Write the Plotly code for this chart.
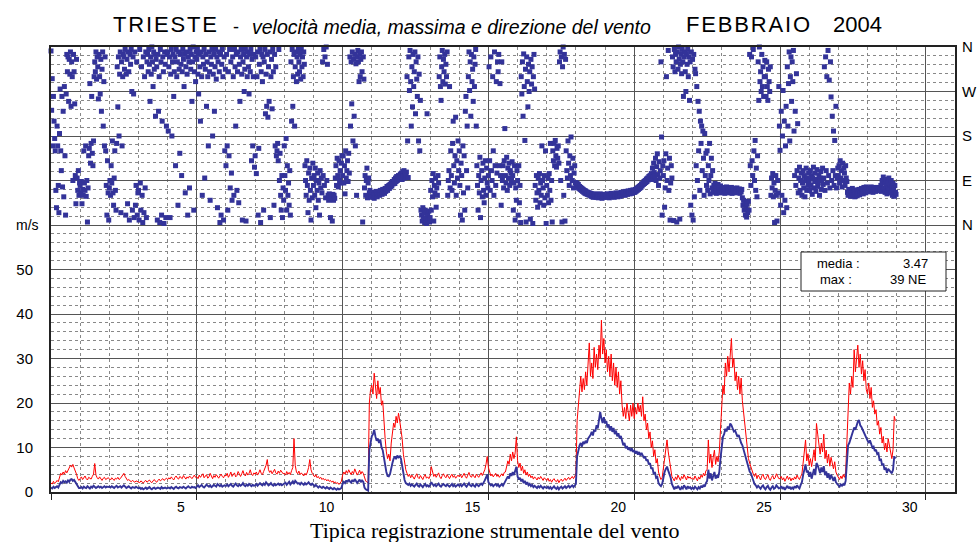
import plotly.graph_objects as go

# ---------------- DATA ----------------
# Hourly mean wind speed (m/s), one row per day (day 0 = 1 Feb 2004)
mean_speed = [
    [1.0,0.8,1.2,0.9,1.1,1.3,1.0,1.8,2.2,2.0,2.5,2.2,2.4,2.1,2.6,2.3,2.8,2.9,2.5,2.7,2.2,1.8,1.2,0.9],
    [0.9,1.1,0.8,1.2,1.0,0.9,1.3,1.1,0.8,1.2,1.0,1.4,1.2,0.9,1.1,1.3,1.0,1.2,0.9,1.1,1.3,1.0,1.2,1.1],
    [1.2,1.0,1.3,1.1,0.9,1.2,1.4,1.0,1.1,1.3,1.0,1.2,1.5,1.2,0.9,1.1,1.3,1.0,0.8,1.1,1.0,0.9,1.2,1.0],
    [0.8,1.0,0.7,0.9,0.6,0.8,1.0,0.7,0.9,1.1,0.8,0.6,0.9,1.0,0.7,0.8,1.0,0.9,0.7,1.1,0.8,0.9,1.0,0.8],
    [0.9,1.0,0.8,1.1,0.9,0.7,1.0,1.2,0.9,0.8,1.1,1.0,0.9,1.2,1.0,0.8,1.1,1.3,1.0,0.9,1.2,1.0,1.1,0.9],
    [1.2,1.5,1.1,1.4,1.6,1.2,1.0,1.3,1.7,1.4,1.2,1.5,1.1,1.3,1.6,1.4,1.2,1.8,1.5,1.3,1.6,1.2,1.4,1.5],
    [1.4,1.7,1.3,1.5,1.8,1.4,1.2,1.6,1.9,1.5,1.3,1.7,1.4,1.6,2.0,1.5,1.3,1.7,1.4,1.8,1.5,1.3,1.6,1.4],
    [1.5,1.8,1.4,1.6,2.0,1.7,1.5,1.9,1.6,2.2,1.8,1.5,1.7,2.0,1.6,1.4,1.8,1.5,1.7,1.9,1.6,1.8,1.5,1.7],
    [1.8,2.1,1.6,1.9,2.3,1.7,2.0,2.4,1.8,2.5,2.2,1.9,2.0,1.7,2.1,1.8,1.6,2.0,1.7,1.9,2.2,1.8,1.6,1.9],
    [1.5,1.3,1.6,1.2,1.0,1.3,1.1,0.9,1.2,1.0,0.8,1.1,0.9,0.7,1.0,0.8,0.6,0.9,0.7,0.5,0.8,0.6,0.7,0.9],
    [1.8,2.3,2.0,2.6,2.2,2.8,2.4,2.1,2.7,2.3,2.9,2.5,2.0,2.4,2.8,2.2,2.6,2.3,1.0,0.6,0.4,0.3,9.5,11.0],
    [12.5,13,14,12.5,11.5,12,11,11.8,10,9.4,7.5,6.2,4.5,3.6,3.5,4.0,5.5,6.5,7.5,8,7.4,8.2,7.8,8],
    [7.5,6,4,2.7,2,1.8,1.6,1.9,1.4,1.7,1.5,1.2,1.6,1.9,1.4,1.2,1.7,1.4,1.1,1.5,1.8,1.3,1.5,1.2],
    [1.5,2.2,1.8,1.4,1.7,1.3,1.6,1.9,1.4,1.2,1.6,1.8,1.5,1.3,1.7,1.4,1.2,1.5,1.8,1.3,1.6,1.2,1.4,1.7],
    [1.4,1.7,1.3,1.5,1.9,1.5,1.2,1.6,2.0,1.5,1.3,1.7,1.4,1.2,1.8,1.5,1.3,1.6,1.9,1.6,2.0,2.6,3.2,4.0],
    [2.2,1.8,1.5,1.7,1.3,1.6,1.8,1.4,1.7,1.2,1.5,1.8,1.4,1.9,2.4,2.8,3.5,3.0,4.2,3.6,4.5,3.8,5.0,5.7],
    [3.5,2.8,3.2,2.4,2.9,2.0,2.5,1.7,2.2,1.5,1.8,1.3,1.6,1.1,1.4,1.2,0.9,1.3,1.0,1.4,1.1,0.8,1.2,1.0],
    [0.9,1.2,0.8,1.1,0.7,1.0,1.3,0.9,0.7,1.1,0.6,1.0,1.2,0.8,1.0,1.3,0.9,1.1,1.4,1.0,1.2,1.5,1.1,1.4],
    [1.8,8,9.5,10.5,11,10.2,11.3,10.8,11.5,11,12,12.3,12.8,13.5,12.7,14,13.6,15,14.3,16.2,18,16.5,15.5,16.8],
    [15.4,16,14.5,15.2,13.8,14.8,13.5,14.4,13,13.8,12.5,13.2,12,12.6,11.2,10.5,11,9.8,10.3,9.5,10,9.2,9.8,9],
    [9.4,8.6,9.2,8.4,9,8.2,8.8,8,7.6,8,7,7.3,6.2,6.5,5.2,5.5,4,4.5,3.2,3.4,2,1.6,1.3,1.8],
    [3.5,4.5,5.2,5.7,4.8,4,3.2,1.8,1.0,0.6,1.2,0.8,1.4,1.0,0.5,1.1,0.8,1.5,1.0,0.6,1.3,0.9,1.1,0.7],
    [1.0,0.7,1.2,0.9,0.6,1.1,0.8,1.4,1.0,1.6,1.2,2.0,2.5,5.0,3.0,4.2,2.6,3.6,4.5,3.0,3.8,3.2,4.5,7.5],
    [10,12.4,13,14.2,13.6,14.7,14,15.4,15,14.2,13.6,13.8,13,12.4,12.8,11.8,11,10.5,9.5,8.6,7.8,6.5,5.4,4.6],
    [4.2,3.2,2.5,1.8,1.5,1.0,1.4,1.1,0.7,1.2,1.5,0.9,0.6,1.1,1.4,0.8,0.5,1.0,1.3,0.7,0.9,1.5,1.1,0.8],
    [0.9,1.3,0.7,1.1,0.5,0.9,1.4,0.8,1.2,0.6,1.0,0.7,1.3,0.9,1.5,1.1,0.8,1.6,2.2,3.8,5.0,6.2,4.4,4.8],
    [3.4,4.5,3.0,4.2,5.2,3.8,6.5,6.0,5.0,4.2,5.5,4.5,5.8,3.8,4.6,3.2,4.2,2.8,3.9,3.0,2.5,3.4,2.2,1.8],
    [1.5,1.2,1.7,1.4,1.8,1.5,2.5,7.0,10.5,11.0,12.0,13.0,13.5,14.5,14.0,15.2,15.8,16.2,15.0,14.6,14.0,13.5,13.0,12.0],
    [11.5,11.0,11.6,10.5,10.0,10.2,9.2,9.5,8.5,8.7,7.0,7.5,6.0,6.4,5.0,5.5,4.3,5.2,4.8,4.5,4.2,5.0,8.0,7.5],
]

# Hourly maximum wind speed (m/s)
max_speed = [
    [2.0,1.8,2.4,1.9,2.2,2.6,2.3,3.5,4.2,3.8,4.5,4.0,4.8,4.3,5.0,5.5,6.0,5.6,6.2,5.4,4.8,4.0,3.0,2.6],
    [3.0,3.4,2.8,3.2,3.6,3.0,2.7,3.3,3.1,2.9,3.5,4.0,6.4,3.8,3.2,2.9,3.4,3.0,2.6,3.1,3.3,2.8,3.0,3.2],
    [3.0,2.7,3.2,2.8,2.6,3.1,2.9,3.3,2.8,3.0,3.4,3.8,4.2,3.5,2.9,2.6,2.8,2.5,2.3,2.6,2.4,2.2,2.5,2.3],
    [2.3,2.1,2.5,2.2,2.0,2.4,2.6,2.2,2.4,2.7,2.3,2.1,2.5,2.8,2.4,2.2,2.6,2.9,2.5,2.7,3.0,2.6,2.8,3.1],
    [2.8,3.2,2.9,3.4,3.0,2.7,3.3,3.6,3.1,2.9,3.5,3.2,3.0,3.7,3.3,2.9,3.4,3.1,3.6,3.2,3.0,3.4,3.8,3.3],
    [3.4,3.0,3.8,3.3,3.6,4.1,3.2,3.5,3.9,3.1,3.4,4.2,3.6,3.0,3.7,3.3,3.9,3.4,3.1,3.6,4.0,3.5,3.2,3.8],
    [3.6,4.2,3.3,3.8,4.5,3.5,3.9,4.3,3.4,3.7,4.6,3.8,3.5,4.1,4.8,3.9,3.6,4.4,3.8,4.2,5.0,4.0,3.7,4.3],
    [4.0,4.5,3.8,4.3,5.0,4.2,3.9,4.6,5.2,6.0,7.3,5.0,4.4,4.8,4.1,4.6,5.1,4.3,4.0,4.7,4.2,4.9,4.4,4.1],
    [4.2,3.8,4.6,4.0,4.4,3.9,4.8,5.5,12.0,6.0,4.5,4.1,4.7,3.9,4.3,4.0,3.6,4.2,3.8,4.5,5.5,7.3,5.0,4.2],
    [3.8,3.4,3.9,3.2,3.5,3.0,3.3,2.8,3.1,2.7,2.9,2.5,2.8,2.4,2.6,2.2,2.5,2.0,2.3,1.9,2.1,1.7,2.0,2.4],
    [3.8,4.5,4.0,4.8,4.2,5.0,4.4,3.9,4.6,4.1,5.2,4.5,3.8,4.3,4.9,4.0,4.6,4.2,3.0,2.5,2.2,2.0,20,23],
    [24,22,26.7,24,21,25,22,23.5,19.5,20.5,15,12,9,7.5,8.5,7,11,13,15.5,14.5,17,15.5,17.7,16],
    [14,12,8.5,6,5,4.2,3.5,4.0,3.2,3.8,3.4,2.9,3.6,4.1,3.3,3.0,3.7,3.2,2.8,3.5,3.9,3.1,3.4,3.0],
    [3.6,5.7,4.2,3.5,4.0,3.3,3.8,4.3,3.4,3.0,3.7,4.1,3.5,3.2,3.9,3.4,3.0,3.6,4.0,3.3,3.7,3.1,3.5,3.8],
    [3.4,3.9,3.2,3.6,4.2,3.5,3.1,3.8,4.4,3.6,3.3,3.9,3.5,3.2,4.0,3.6,3.3,3.8,4.3,3.7,4.2,5.0,6.2,8.0],
    [5.5,4.2,3.6,4.0,3.4,3.8,4.2,3.5,3.9,3.3,3.7,4.1,3.6,4.4,4.5,5.8,7.0,6.2,8.5,7.0,9.0,7.5,8.8,12.4],
    [7.0,5.5,6.5,4.8,5.8,4.2,5.0,3.8,4.5,3.5,4.0,3.2,3.6,2.9,3.4,3.1,2.7,3.3,2.9,3.5,3.0,2.6,3.2,2.8],
    [2.6,3.1,2.4,2.8,2.2,2.7,3.0,2.5,2.3,2.8,2.1,2.6,2.9,2.4,2.7,3.1,2.6,2.9,3.3,2.8,3.1,3.5,3.0,3.4],
    [4,16,20,23,26,22.5,25.5,23,27,24,28,33.5,26,29,25.5,32.5,28,31,27.5,33,30,38.6,31,34.5],
    [29,32,27,30.5,26,31,25,29,24,28,23.5,27,22,25,19.5,17,19,16.5,20,18,16,19.5,17,20],
    [16.5,19,17.5,20,18,19.5,17,21.4,16,17.5,14,15.5,12,13.5,10,11.5,8,9.5,6.5,7.5,4.5,3.5,2.8,3.2],
    [5.5,8,9.5,11.7,9,7,5.5,3.5,3.0,2.5,3.4,2.8,3.8,3.2,2.6,3.5,3.0,3.9,3.3,2.7,3.6,3.1,3.4,2.9],
    [3.2,2.8,3.6,3.0,2.5,3.4,2.9,3.8,3.3,4.2,3.6,4.8,5.0,11.7,6.5,8.5,5.5,7.8,9.4,6.2,8.0,6.8,9.0,14.0],
    [19,24,22,29,26,30.5,27,32,34.5,28,30,25,27,23,26,22,25.6,20.5,18,15,12.5,9.4,7.5,6.5],
    [5.7,4.5,4.0,3.5,4.2,3.0,3.8,3.3,2.7,3.6,4.0,3.1,2.8,3.4,3.9,3.0,2.6,3.3,3.7,2.9,3.2,4.1,3.4,3.0],
    [3.0,3.5,2.7,3.2,2.4,3.0,3.6,2.8,3.3,2.5,3.1,2.7,3.4,2.9,3.8,3.2,2.8,3.5,4.0,6.5,9.4,11.7,7.0,8.6],
    [6.0,7.5,5.7,8.0,9.5,7.0,15.4,13.0,10.0,8.5,11.0,9.0,13.0,7.5,9.4,6.5,8.5,5.8,7.8,6.0,5.2,6.8,4.5,3.8],
    [3.2,2.8,3.6,3.0,3.9,3.3,4.5,12.0,21.0,24.5,22.0,26.0,23.5,32.0,27.0,30.0,33.0,28.0,31.0,26.5,29.5,25.0,27.5,23.0],
    [22.0,24.5,21.0,23.5,19.0,20.5,17.5,18.5,15.0,16.0,13.0,14.5,11.0,12.5,9.5,11.0,9.0,12.0,10.5,8.5,7.5,9.5,17.0,16.0],
]

# Half-hourly wind direction (degrees from N), one row per day
direction = [
    [352,232,296,160,260,210,175,150,70,35,200,160,80,25,185,275,150,110,260,77,230,57,280,140,20,265,345,310,340,250,335,305,350,240,330,300,90,345,310,245,100,43,335,95,70,110,60,85],
    [80,65,88,43,72,60,150,85,70,160,58,90,6,75,140,155,286,125,165,260,145,120,170,300,330,310,350,295,340,320,255,345,300,265,335,230,315,350,200,290,160,340,150,80,20,130,65,10],
    [75,90,60,120,85,170,65,40,95,150,70,30,165,320,239,340,180,305,350,25,330,160,300,345,340,315,355,20,305,335,43,350,310,10,345,325,355,270,30,340,265,15,350,40,80,330,20,65],
    [70,10,355,85,30,320,60,5,340,25,300,75,350,15,330,345,310,355,325,250,340,305,360,330,280,350,315,345,220,335,320,10,345,230,300,5,355,330,20,210,340,310,3,350,325,15,200,345],
    [350,190,320,340,15,305,355,180,330,345,260,310,340,120,355,300,330,40,350,315,145,345,325,100,310,355,335,280,345,65,320,350,305,20,340,330,75,355,315,345,250,330,360,30,310,340,290,350],
    [335,355,305,265,345,320,210,350,300,60,340,325,355,95,315,345,240,330,300,160,350,310,50,340,325,355,180,305,345,230,320,355,295,340,35,330,350,310,5,345,20,325,355,300,10,340,150,315],
    [120,345,160,30,310,140,355,75,330,105,50,340,300,60,355,320,200,345,70,310,350,45,325,250,340,355,305,10,330,345,270,315,355,8,340,300,350,320,265,345,310,355,130,335,160,300,345,117],
    [140,340,104,300,350,20,155,325,355,5,310,345,290,340,30,330,355,225,305,240,345,218,320,250,350,15,300,335,235,355,310,40,345,160,320,140,150,165,130,355,90,145,60,30,100,15,75,50],
    [160,100,70,175,30,120,60,85,40,110,20,330,210,355,240,300,345,200,320,350,290,340,305,355,330,310,345,295,355,320,340,300,350,325,120,90,60,130,80,25,105,50,115,70,10,95,55,125],
    [80,100,60,115,35,90,70,105,50,85,20,110,75,95,65,330,100,355,80,340,55,360,90,325,60,50,63,55,15,58,52,8,62,50,60,54,95,120,80,135,100,77,130,90,110,85,125,140],
    [100,140,85,120,63,150,95,110,130,88,145,105,340,200,330,245,350,170,335,220,345,160,326,60,340,353,330,290,345,300,335,350,310,6,340,295,75,100,60,90,115,55,85,95,65,70,60,58],
    [62,56,66,60,54,64,58,68,61,57,65,63,66,60,70,64,68,62,72,66,70,64,74,68,72,78,70,76,80,74,82,77,85,79,88,83,86,92,84,95,88,98,90,94,100,92,97,103],
    [98,105,92,108,100,110,95,104,99,107,300,170,96,340,272,353,290,200,320,239,345,280,310,350,225,330,295,260,340,170,305,150,252,30,20,8,35,12,25,5,30,15,3,225,22,10,28,6],
    [15,70,30,90,57,104,8,80,65,95,36,75,60,100,85,300,340,280,252,320,353,290,335,310,345,285,325,300,350,60,90,110,280,75,150,100,70,165,210,120,85,140,218,60,130,95,170,110],
    [150,80,20,125,100,10,160,65,140,30,230,260,110,200,75,300,350,272,330,220,345,290,315,250,340,280,325,355,200,120,80,30,100,65,137,15,90,110,57,125,70,45,95,130,60,115,85,75],
    [100,320,130,70,340,110,90,300,150,60,350,120,80,290,105,330,310,345,120,286,100,40,330,90,120,75,130,195,100,85,137,70,115,95,125,80,110,105,90,128,100,30,85,120,10,75,50,110],
    [90,20,120,45,80,5,300,265,330,220,346,280,171,315,6,340,290,239,325,270,310,12,335,285,320,3,300,345,275,80,50,100,65,36,95,70,104,45,85,60,160,90,75,40,100,55,150,3],
    [80,60,95,45,104,70,165,50,90,6,150,130,165,120,171,140,117,155,135,160,125,330,350,90,340,6,320,360,60,345,8,335,150,110,95,170,125,80,140,100,178,115,90,135,75,105,120,85],
    [86,80,84,76,82,74,78,72,76,70,74,68,72,66,70,64,69,63,67,62,66,61,65,60,64,58,63,57,62,56,61,58,63,56,60,57,62,55,60,57,63,56,59,54,61,58,62,56],
    [60,56,62,58,63,57,61,55,60,58,64,57,62,59,63,56,61,58,65,59,62,57,64,60,63,58,66,60,64,61,67,62,65,60,68,63,66,62,69,64,67,63,70,65,68,64,71,66],
    [70,66,72,68,74,70,76,72,78,74,80,76,83,79,85,82,88,84,90,86,93,88,95,91,98,93,100,95,104,92,115,98,125,106,100,135,90,118,144,102,80,128,95,110,330,178,20,120],
    [100,130,36,75,144,300,90,115,353,70,135,10,85,120,95,340,320,9,355,310,345,330,6,350,315,360,335,12,325,345,306,355,330,260,340,350,310,270,345,325,355,300,340,252,330,40,350,20],
    [335,10,345,57,315,306,120,280,90,250,150,230,70,210,165,200,110,190,135,60,185,100,145,80,150,70,120,90,165,63,100,135,75,110,70,80,66,84,72,64,78,68,82,70,76,65,79,72],
    [70,66,74,68,76,64,72,69,77,66,73,70,75,65,71,68,76,64,73,70,67,74,65,72,69,75,66,71,68,73,64,70,67,72,55,40,50,30,45,20,35,16,42,25,48,30,345,120],
    [80,340,130,100,355,150,90,171,70,115,57,140,330,252,360,290,310,270,345,280,320,260,300,333,300,260,330,280,252,315,290,270,320,60,95,75,104,57,85,5,70,100,60,8,90,65,280,200],
    [151,40,230,60,180,272,25,210,50,160,240,35,320,200,286,350,170,300,340,250,330,290,353,190,100,230,80,306,110,205,65,95,117,70,90,105,60,85,110,75,100,57,90,115,70,95,80,105],
    [90,70,110,80,100,62,95,117,75,88,105,68,92,112,78,85,100,60,95,108,72,90,115,82,95,320,70,340,110,300,85,353,100,293,75,330,259,90,220,110,190,80,171,100,240,75,95,115],
    [100,120,85,130,95,110,77,125,90,115,105,80,120,95,88,66,60,72,63,70,58,68,62,74,65,60,70,57,66,62,71,59,67,63,72,61,69,64,74,66,70,63,76,68,72,65,77,70],
    [72,67,75,70,74,68,77,71,73,66,76,70,72,68,75,71,74,69,76,72,73,70,80,68,90,75,97,72,85,66,92,78,63,88,74,95,70,82,65,90,76,60,84,72,58,80,66,62],
]

speed_ticks = [0, 10, 20, 30, 40, 50]
day_ticks = [5, 10, 15, 20, 25, 30]
compass_vals = [0, 90, 180, 270, 360]
compass_text = ["N", "E", "S", "W", "N"]
stat_mean = "3.47"
stat_max = "39 NE"


def flatten(rows):
    xs, ys = [], []
    for d, vals in enumerate(rows):
        n = len(vals)
        for k, v in enumerate(vals):
            xs.append(d + k / n)
            ys.append(v)
    return xs, ys


xm, ym = flatten(mean_speed)
xM, yM = flatten(max_speed)
xd, yd = flatten(direction)

# ---------------- FIGURE ----------------
# page body margin is removed in post_script, so figure pixels = page pixels
W, H = 977, 542
L, R, T, B = 51, 955, 47, 492


def px(x):
    return (x - L) / (R - L)


def py(y):
    return (B - y) / (B - T)


def spaced(s):
    return "\u200a".join(s)


NAVY = "#333399"
fig = go.Figure()
fig.add_trace(go.Scatter(x=xM, y=yM, mode="lines", line=dict(color="#ff0000", width=1), yaxis="y"))
fig.add_trace(go.Scatter(x=xm, y=ym, mode="lines", line=dict(color=NAVY, width=1.9), yaxis="y"))
fig.add_trace(go.Scatter(x=xd, y=yd, mode="markers", yaxis="y2", cliponaxis=False,
                         marker=dict(symbol="square", size=5, color=NAVY, line=dict(width=0))))

all_ticks = list(range(0, 101, 10))
ticktext = [str(v) if v in speed_ticks else "" for v in all_ticks]

fig.update_layout(
    width=W, height=H, autosize=False,
    margin=dict(l=L, r=W - R, t=T, b=H - B, pad=0, autoexpand=False),
    plot_bgcolor="white", paper_bgcolor="white",
    showlegend=False,
    font=dict(family="Liberation Sans, Arial, sans-serif", color="black"),
    xaxis=dict(
        range=[0, 31], tickmode="array", tickvals=[0] + day_ticks,
        ticktext=[""] + [str(v) for v in day_ticks], automargin=False,
        ticks="outside", ticklen=6, tickcolor="#222", tickwidth=1,
        ticklabelshift=-16, ticklabelstandoff=-5,
        tickfont=dict(size=14),
        showgrid=True, gridcolor="#555", gridwidth=1,
        minor=dict(tick0=0, dtick=1, showgrid=True, gridcolor="#888", griddash="dot", gridwidth=1, ticks=""),
        showline=True, linecolor="#222", linewidth=2, mirror=True, zeroline=False,
    ),
    yaxis=dict(
        range=[0, 100], tickmode="array", tickvals=all_ticks, ticktext=ticktext, automargin=False,
        ticks="", ticklabelstandoff=13, tickfont=dict(size=15),
        showgrid=True, gridcolor="#555", gridwidth=1,
        minor=dict(tick0=0, dtick=2, showgrid=True, gridcolor="#888", griddash="dot", gridwidth=1),
        showline=True, linecolor="#222", linewidth=2, mirror=True, zeroline=False,
    ),
    yaxis2=dict(
        overlaying="y", side="right", range=[-540, 360], automargin=False,
        tickmode="array", tickvals=compass_vals, ticktext=compass_text,
        ticks="", ticklabelstandoff=6, tickfont=dict(size=15),
        showgrid=False, zeroline=False, showline=False,
    ),
)

ann = []
ann.append(dict(text=spaced("TRIESTE"), x=px(165), y=py(25), xanchor="center", yanchor="middle", font=dict(size=22)))
ann.append(dict(text="-", x=px(236), y=py(27), xanchor="center", yanchor="middle", font=dict(size=18)))
ann.append(dict(text="<i>velocità media, massima e direzione del vento</i>", x=px(250), y=py(27),
                xanchor="left", yanchor="middle", font=dict(size=19.5)))
ann.append(dict(text=spaced("FEBBRAIO"), x=px(684), y=py(25), xanchor="left", yanchor="middle", font=dict(size=22)))
ann.append(dict(text="2004", x=px(831), y=py(25), xanchor="left", yanchor="middle", font=dict(size=22)))
ann.append(dict(text="m/s", x=px(27), y=py(225), xanchor="center", yanchor="middle", font=dict(size=14)))
ann.append(dict(text="Tipica registrazione strumentale del vento", x=px(494), y=py(530),
                xanchor="center", yanchor="middle",
                font=dict(size=22, family="Liberation Serif, Times New Roman, serif")))
# statistics box
ann.append(dict(text="media :", x=px(815), y=py(263), xanchor="left", yanchor="middle", font=dict(size=13)))
ann.append(dict(text=stat_mean, x=px(930), y=py(263), xanchor="right", yanchor="middle", font=dict(size=13)))
ann.append(dict(text="max :", x=px(818), y=py(279), xanchor="left", yanchor="middle", font=dict(size=13)))
ann.append(dict(text=stat_max, x=px(928), y=py(279), xanchor="right", yanchor="middle", font=dict(size=13)))
for a in ann:
    a.update(xref="paper", yref="paper", showarrow=False)
fig.update_layout(annotations=ann)

fig.add_shape(type="rect", xref="paper", yref="paper", x0=px(801), x1=px(946), y0=py(291), y1=py(252),
              fillcolor="white", line=dict(color="#222", width=1), layer="above")

fig.write_html(
    "out.html",
    config={"responsive": False, "displayModeBar": False},
    post_script=("document.documentElement.style.overflow='hidden';"
                 "document.body.style.margin='0';document.body.style.overflow='hidden';"),
)
